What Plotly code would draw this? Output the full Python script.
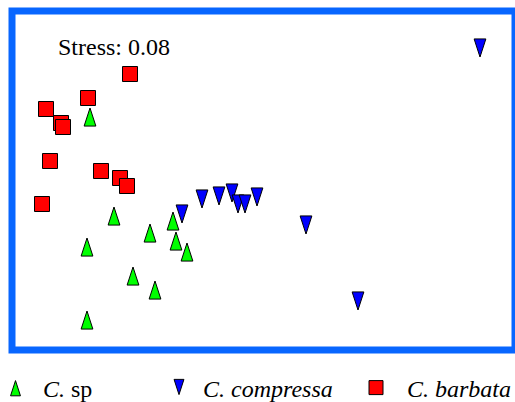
import plotly.graph_objects as go

# NMDS coordinates
sp_x = [-1.60, -1.36, -1.63, -1.00, -0.77, -0.74, -0.63, -1.17, -0.95, -1.63]
sp_y = [0.82, -0.17, -0.48, -0.34, -0.22, -0.42, -0.53, -0.77, -0.91, -1.21]

comp_x = [-0.68, -0.48, -0.31, -0.18, -0.12, -0.05, 0.07, 0.56, 1.08, 2.30]
comp_y = [-0.33, -0.18, -0.15, -0.12, -0.23, -0.23, -0.16, -0.44, -1.20, 1.33]

barb_x = [-1.20, -1.62, -2.04, -1.89, -1.87, -2.00, -1.49, -1.30, -1.23, -2.08]
barb_y = [1.16, 0.92, 0.81, 0.67, 0.63, 0.29, 0.19, 0.12, 0.04, -0.14]

names = ["<i>C.</i> sp", "<i>C. compressa</i>", "<i>C. barbata</i>"]
stress_label = "Stress: 0.08"

SERIF = "Liberation Serif"
line = dict(color="black", width=1)
GREEN, BLUE, RED = "#00ff00", "#0000ff", "#ff0000"
CLEAR = "rgba(0,0,0,0)"

fig = go.Figure()
# data markers
fig.add_trace(go.Scatter(
    x=sp_x, y=sp_y, mode="markers", name=names[0], showlegend=False,
    marker=dict(symbol="arrow", angle=0, size=19, color=GREEN, line=line)))
fig.add_trace(go.Scatter(
    x=comp_x, y=comp_y, mode="markers", name=names[1], showlegend=False,
    marker=dict(symbol="arrow", angle=180, size=19, color=BLUE, line=line)))
fig.add_trace(go.Scatter(
    x=barb_x, y=barb_y, mode="markers", name=names[2], showlegend=False,
    marker=dict(symbol="square", size=15, color=RED, line=line)))

# legend entries (legend-only traces, no data points)
# symbol-only entries for the triangles
fig.add_trace(go.Scatter(x=[None], y=[None], mode="markers", name="", legend="legend4",
                         marker=dict(symbol="arrow", angle=0, size=17, color=GREEN, line=line)))
fig.add_trace(go.Scatter(x=[None], y=[None], mode="markers", name="", legend="legend5",
                         marker=dict(symbol="arrow", angle=180, size=17, color=BLUE, line=line)))
# text entries
fig.add_trace(go.Scatter(x=[None], y=[None], mode="markers", name=names[0], legend="legend",
                         marker=dict(symbol="square", size=10, color=CLEAR, line=dict(width=0))))
fig.add_trace(go.Scatter(x=[None], y=[None], mode="markers", name=names[1], legend="legend2",
                         marker=dict(symbol="square", size=10, color=CLEAR, line=dict(width=0))))
fig.add_trace(go.Scatter(x=[None], y=[None], mode="markers", name=names[2], legend="legend3",
                         marker=dict(symbol="square", size=14, color=RED, line=line)))

def px_x(p):
    return (p - 12) / 503

def px_y(p):
    return (350 - p) / 339

leg_common = dict(orientation="h", yanchor="middle", xanchor="left",
                  bgcolor="rgba(0,0,0,0)", borderwidth=0,
                  font=dict(family=SERIF, size=24, color="black"))

fig.update_layout(
    width=515, height=402,
    margin=dict(l=12, r=0, t=11, b=52, autoexpand=False),
    paper_bgcolor="white", plot_bgcolor="white",
    showlegend=True,
    legend=dict(x=px_x(3), y=px_y(388), itemwidth=30, **leg_common),
    legend2=dict(x=px_x(163), y=px_y(388), itemwidth=30, **leg_common),
    legend3=dict(x=px_x(345), y=px_y(388), itemwidth=52, **leg_common),
    legend4=dict(x=px_x(-4.5), y=px_y(381), itemwidth=30, **leg_common),
    legend5=dict(x=px_x(159), y=px_y(395), itemwidth=30, **leg_common),
    xaxis=dict(range=[-2.38, 2.65], visible=False, showgrid=False, zeroline=False),
    yaxis=dict(range=[-1.60, 1.79], visible=False, showgrid=False, zeroline=False),
    shapes=[dict(type="rect", xref="paper", yref="paper", x0=0, x1=1, y0=0, y1=1,
                 line=dict(color="#0866ff", width=7), layer="above")],
    annotations=[dict(text=stress_label, xref="paper", yref="paper",
                      x=px_x(55.5), y=px_y(47), xanchor="left", yanchor="middle",
                      showarrow=False, font=dict(family=SERIF, size=24, color="black"))],
)

fig.write_html("out.html", config={"displayModeBar": False},
               post_script="document.body.style.margin='0px';")
